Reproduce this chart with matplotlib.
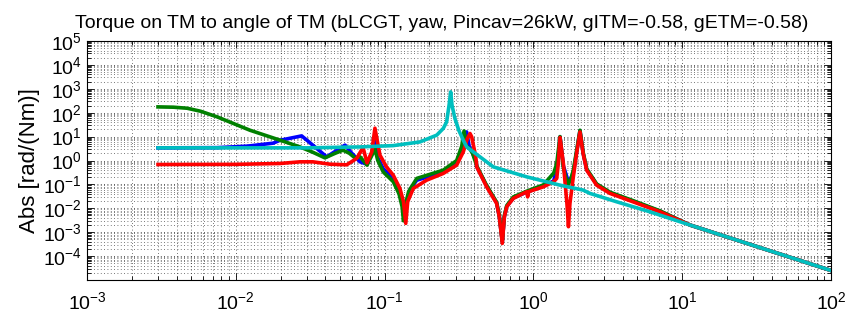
import matplotlib
matplotlib.use("Agg")
import matplotlib.pyplot as plt
from matplotlib.ticker import LogLocator, NullFormatter

plt.rcParams['font.family'] = ['Liberation Sans', 'DejaVu Sans']
plt.rcParams['mathtext.default'] = 'regular'

title = "Torque on TM to angle of TM (bLCGT, yaw, Pincav=26kW, gITM=-0.58, gETM=-0.58)"
ylabel = "Abs [rad/(Nm)]"

# Blue series
blue_f = [0.003, 0.0075, 0.012, 0.0178, 0.0198, 0.0277, 0.031, 0.035, 0.0408, 0.047,
          0.0542, 0.0601, 0.0684, 0.0762, 0.082, 0.0861, 0.09, 0.098, 0.1143, 0.1267,
          0.133, 0.136, 0.139, 0.148, 0.1644, 0.192, 0.248, 0.305, 0.338, 0.356, 0.37,
          0.385, 0.41, 0.416, 0.485, 0.566, 0.59, 0.618, 0.638, 0.662, 0.733, 0.902,
          1.166, 1.37, 1.45, 1.51, 1.59, 1.68, 1.72, 1.76, 1.855, 1.95, 2.056, 2.16,
          2.28, 2.66, 3.27, 4.67, 7.1, 11.3, 100]
blue_a = [3.38, 3.45, 4.0, 5.3, 7.0, 10.7, 6.0, 3.19, 1.42, 2.5,
          4.4, 2.03, 0.88, 0.7, 2.0, 8.0, 1.3, 0.45, 0.18, 0.05,
          0.015, 0.004, 0.015, 0.06, 0.15, 0.2, 0.34, 0.8, 3.0, 15.7, 4.0,
          2.5, 1.0, 0.56, 0.085, 0.017, 0.0045, 0.0004, 0.0045, 0.012, 0.027, 0.048,
          0.085, 0.14, 0.6, 9.7, 0.6, 0.2, 0.12, 0.15, 0.3, 2.2, 17.5, 2.0,
          0.42, 0.1, 0.045, 0.02, 0.0075, 0.00199, 2.5e-5]

# Green series
green_f = [0.003, 0.0038, 0.0047, 0.0058, 0.0075, 0.01244, 0.0198, 0.027, 0.033, 0.0397,
           0.0465, 0.0525, 0.058, 0.0632, 0.0684, 0.0762, 0.082, 0.0861, 0.09, 0.098,
           0.1143, 0.125, 0.131, 0.134, 0.137, 0.145, 0.1644, 0.248, 0.305, 0.33, 0.342,
           0.355, 0.375, 0.39, 0.416, 0.485, 0.566, 0.59, 0.618, 0.638, 0.662, 0.733,
           0.902, 1.166, 1.37, 1.435, 1.51, 1.59, 1.65, 1.72, 1.8, 1.855, 1.95, 2.056,
           2.16, 2.28, 2.66, 3.27, 4.67, 7.1, 11.3, 100]
green_a = [175, 170, 154, 115, 66.7, 18.5, 7.1, 3.7, 2.2, 1.29,
           2.0, 2.71, 2.0, 1.29, 1.42, 0.64, 1.6, 3.0, 1.0, 0.33,
           0.13, 0.04, 0.012, 0.003, 0.012, 0.05, 0.178, 0.395, 1.0, 4.0, 17.3,
           4.0, 3.0, 2.0, 0.6, 0.09, 0.018, 0.005, 0.0004, 0.005, 0.013, 0.03,
           0.052, 0.095, 0.3, 0.75, 10.0, 0.5, 0.2, 0.1, 0.2, 0.395, 2.5, 18.5,
           2.2, 0.45, 0.105, 0.047, 0.021, 0.0078, 0.00199, 2.5e-5]

# Red series
red_f = [0.003, 0.01, 0.0198, 0.027, 0.033, 0.043, 0.0556, 0.0649, 0.0716, 0.0762,
         0.082, 0.0861, 0.0931, 0.103, 0.1143, 0.1267, 0.134, 0.1387, 0.143, 0.156,
         0.192, 0.248, 0.305, 0.338, 0.36, 0.375, 0.385, 0.41, 0.416, 0.485, 0.566,
         0.59, 0.618, 0.638, 0.662, 0.733, 0.900, 0.915, 0.930, 1.166, 1.37, 1.435,
         1.47, 1.51, 1.59, 1.68, 1.72, 1.76, 1.855, 1.95, 2.056, 2.16, 2.28, 2.66,
         3.27, 4.67, 7.1, 11.3, 100]
red_a = [0.68, 0.69, 0.75, 0.88, 0.88, 0.7, 0.66, 1.22, 3.5, 0.8,
         2.3, 22.5, 1.67, 0.54, 0.244, 0.068, 0.019, 0.00234, 0.019, 0.068,
         0.151, 0.288, 0.64, 2.3, 8.3, 13.5, 9.7, 1.42, 0.54, 0.079, 0.016,
         0.0044, 0.00034, 0.0044, 0.0116, 0.026, 0.049, 0.03, 0.05, 0.079, 0.13, 0.178,
         0.75, 9.2, 0.75, 0.016, 0.0017, 0.016, 0.207, 1.9, 15.7, 1.9, 0.395, 0.093,
         0.042, 0.0187, 0.0071, 0.00199, 2.5e-5]

# Cyan series
cyan_f = [0.003, 0.03, 0.0684, 0.1143, 0.173, 0.224, 0.248, 0.261, 0.271, 0.278, 0.284,
          0.297, 0.315, 0.338, 0.356, 0.416, 0.538, 0.902, 1.51, 2.154, 2.40, 3.63,
          6.08, 11.3, 100]
cyan_a = [3.38, 3.38, 3.7, 4.2, 6.0, 11.5, 22, 41, 200, 740, 200,
          57, 18.5, 7.1, 3.7, 1.8, 0.54, 0.207, 0.093, 0.058, 0.042, 0.0187,
          0.0071, 0.00199, 2.5e-5]

xticks = [1e-3, 1e-2, 1e-1, 1e0, 1e1, 1e2]
yticks = [1e-4, 1e-3, 1e-2, 1e-1, 1e0, 1e1, 1e2, 1e3, 1e4, 1e5]

fig = plt.figure(figsize=(8.64, 3.12), dpi=100)
ax = fig.add_axes([87/864, 1 - 280/312, (831 - 87)/864, (280 - 41)/312])

lw = 2.6
ax.loglog(blue_f, blue_a, color=(0, 0, 1), lw=lw)
ax.loglog(green_f, green_a, color=(0, 0.5, 0), lw=lw)
ax.loglog(red_f, red_a, color=(1, 0, 0), lw=lw)
ax.loglog(cyan_f, cyan_a, color=(0, 0.75, 0.75), lw=lw)

ax.set_xlim(1e-3, 1e2)
ax.set_ylim(1e-5, 1e5)
ax.set_xticks(xticks)
ax.set_yticks(yticks)
ax.xaxis.set_minor_locator(LogLocator(base=10, subs=range(2, 10), numticks=100))
ax.yaxis.set_minor_locator(LogLocator(base=10, subs=range(2, 10), numticks=100))
ax.xaxis.set_minor_formatter(NullFormatter())
ax.yaxis.set_minor_formatter(NullFormatter())

ax.grid(True, which='major', linestyle=(0, (1, 3)), color='k', lw=0.6, alpha=0.85)
ax.grid(True, which='minor', linestyle=(0, (1, 3)), color='k', lw=0.6, alpha=0.7)
ax.tick_params(which='both', direction='in', top=True, right=True, labelsize=14)
ax.tick_params(which='major', length=5, width=0.6)
ax.tick_params(which='minor', length=3, width=0.6)
ax.tick_params(axis='x', pad=8)
for s in ax.spines.values():
    s.set_linewidth(0.8)

ax.set_title(title, fontsize=14, pad=9, x=0.477)
ax.set_ylabel(ylabel, fontsize=16, labelpad=2)

fig.savefig("out.png", dpi=100)
